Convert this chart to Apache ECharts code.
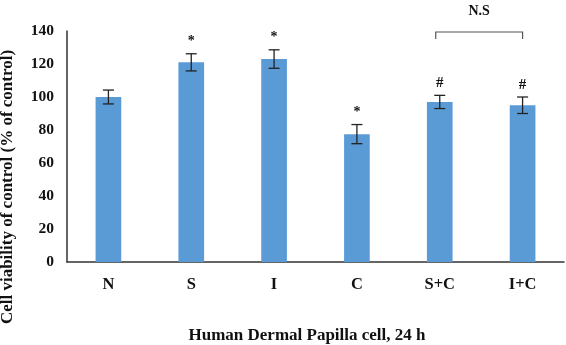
<!DOCTYPE html>
<html lang="en">
<head>
    <meta charset="UTF-8">
    <title>Cell viability</title>
    <script src="https://cdn.jsdelivr.net/npm/echarts@6/dist/echarts.min.js"></script>
    <style>
        *{ margin:0; padding:0; }
        body{ background:#fff; }
        #main{ width:566px; height:345px; }
    </style>
</head>
<body>
<div id="main"></div>
<script>
    // data
    var categories = ['N', 'S', 'I', 'C', 'S+C', 'I+C'];
    var viability = [100, 121, 123, 77.5, 97, 95];
    var errors = [4.2, 5.2, 5.6, 5.8, 4, 5];
    var marks = ['', '*', '*', '*', '#', '#'];
    var yTicks = [0, 20, 40, 60, 80, 100, 120, 140];

    var font = 'Liberation Serif, Times New Roman, serif';
    var myChart = echarts.init(document.getElementById('main'));

    var errData = categories.map(function (c, i) {
        return [i, viability[i] - errors[i], viability[i] + errors[i], marks[i]];
    });

    var option = {
        animation: false,
        grid: { left: 67, right: 2, top: 31, bottom: 83, outerBoundsMode: 'none', containLabel: false },
        xAxis: {
            type: 'category',
            data: categories,
            axisTick: { show: false },
            axisLine: { lineStyle: { color: '#333', width: 1.5 } },
            axisLabel: {
                color: '#111', fontFamily: font, fontWeight: 'bold', fontSize: 16.5, margin: 14
            },
            name: 'Human Dermal Papilla cell, 24 h',
            nameLocation: 'middle',
            nameGap: 65,
            nameTextStyle: {
                color: '#111', fontFamily: font, fontWeight: 'bold', fontSize: 17,
                padding: [0, 17, 0, 0]
            }
        },
        yAxis: {
            type: 'value',
            min: yTicks[0],
            max: yTicks[yTicks.length - 1],
            interval: 20,
            splitLine: { show: false },
            axisTick: { show: false },
            axisLine: { show: true, lineStyle: { color: '#333', width: 1.5 } },
            axisLabel: {
                color: '#111', fontFamily: font, fontWeight: 'bold', fontSize: 15.5, margin: 13
            }
        },
        graphic: [{
            type: 'text',
            x: 8,
            y: 187,
            rotation: Math.PI / 2,
            style: {
                text: 'Cell viability of control (% of control)',
                fill: '#111',
                font: 'bold 17px ' + font,
                align: 'center',
                verticalAlign: 'middle'
            }
        }],
        series: [
            {
                type: 'bar',
                data: viability,
                barWidth: '31%',
                itemStyle: { color: '#5B9BD5' }
            },
            {
                // error bars + significance marks
                type: 'custom',
                data: errData,
                z: 5,
                renderItem: function (params, api) {
                    var lo = api.coord([api.value(0), api.value(1)]);
                    var hi = api.coord([api.value(0), api.value(2)]);
                    var hw = 5.5;
                    var st = { stroke: '#222', lineWidth: 1.3 };
                    var children = [
                        { type: 'line', shape: { x1: lo[0], y1: lo[1], x2: hi[0], y2: hi[1] }, style: st },
                        { type: 'line', shape: { x1: lo[0] - hw, y1: lo[1], x2: lo[0] + hw, y2: lo[1] }, style: st },
                        { type: 'line', shape: { x1: hi[0] - hw, y1: hi[1], x2: hi[0] + hw, y2: hi[1] }, style: st }
                    ];
                    var m = marks[params.dataIndex];
                    if (m) {
                        children.push({
                            type: 'text',
                            x: hi[0],
                            y: hi[1] - 12,
                            style: {
                                text: m, fill: '#111',
                                font: 'bold ' + (m === '*' ? 14 : 15) + 'px ' + font,
                                align: 'center', verticalAlign: 'middle'
                            }
                        });
                    }
                    return { type: 'group', children: children };
                }
            },
            {
                // N.S bracket between S+C and I+C
                type: 'custom',
                data: [[4, 5, 140]],
                renderItem: function (params, api) {
                    var a = api.coord([api.value(0), api.value(2)]);
                    var b = api.coord([api.value(1), api.value(2)]);
                    var y = a[1] + 1;
                    var x1 = a[0] - 4, x2 = b[0];
                    var st = { stroke: '#555', lineWidth: 1.2, fill: null };
                    return {
                        type: 'group',
                        children: [
                            { type: 'polyline', shape: { points: [[x1, y + 7], [x1, y], [x2, y], [x2, y + 7]] }, style: st },
                            {
                                type: 'text', x: (x1 + x2) / 2, y: y - 21,
                                style: { text: 'N.S', fill: '#111', font: 'bold 14px ' + font, align: 'center', verticalAlign: 'middle' }
                            }
                        ]
                    };
                }
            }
        ]
    };
    myChart.setOption(option);
</script>
</body>
</html>
